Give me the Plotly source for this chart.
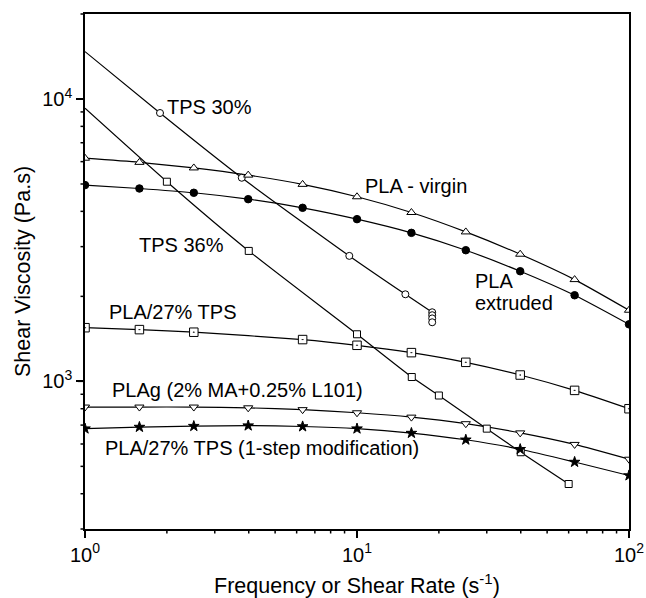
import plotly.graph_objects as go
import numpy as np

# ---- data ----
freq = [1, 1.585, 2.512, 3.981, 6.31, 10, 15.85, 25.12, 39.81, 63.1, 100]
pla_virgin = [6170, 5965, 5700, 5375, 4985, 4505, 3963, 3383, 2820, 2293, 1786]
pla_extruded = [4955, 4820, 4655, 4418, 4118, 3754, 3357, 2914, 2455, 2018, 1592]
plag = [811, 811, 811, 806, 794, 774, 747, 708, 657, 598, 530]
pla_1step = [680, 689, 694, 697, 692, 680, 656, 621, 575, 518, 464]

pla27_x = [1, 1.585, 2.512, 6.31, 10, 15.85, 25.12, 39.81, 63.1, 100]
pla27_y = [1549, 1525, 1493, 1406, 1342, 1264, 1168, 1053, 929, 800]

tps30_x = [1.887, 3.77, 9.37, 15.06, 18.9, 18.9, 18.9, 18.9]
tps30_y = [8920, 5260, 2782, 2034, 1757, 1715, 1671, 1619]
tps30_curve_start = 14720   # viscosity of the drawn curve at x = 1
tps30_curve_npts = 5        # curve runs through the first points only

tps36_x = [2, 4, 10, 15.9, 20, 30, 40, 60]
tps36_y = [5094, 2897, 1468, 1036, 891, 680, 561, 433]
tps36_curve_start = 9270

x_ticks = [1, 10, 100]
x_ticktext = ["10<sup>0</sup>", "10<sup>1</sup>", "10<sup>2</sup>"]
y_ticks = [1000, 10000]
y_ticktext = ["10<sup>3</sup>", "10<sup>4</sup>"]
x_minor = [2, 3, 4, 5, 6, 7, 8, 9, 20, 30, 40, 50, 60, 70, 80, 90]
y_minor = [300, 400, 500, 600, 700, 800, 900, 2000, 3000, 4000, 5000,
           6000, 7000, 8000, 9000, 20000]

FONT = "Liberation Sans, Arial, sans-serif"
FS = 20
FS_TITLE = 21.5
MAJOR_LEN = 7
MINOR_LEN = 4.5
AXIS_W = 1.5

W, H = 646, 598
M = dict(l=85, r=17, t=14, b=69)
PLOT_W = W - M["l"] - M["r"]
PLOT_H = H - M["t"] - M["b"]

X_RANGE = [0, 2]
Y_RANGE = [np.log10(300), np.log10(20000)]

fig = go.Figure()

def curve(x, y, shape="spline"):
    fig.add_trace(go.Scatter(x=x, y=y, mode="lines",
                             line=dict(color="black", width=1.2, shape=shape, smoothing=0.6),
                             hoverinfo="skip", showlegend=False))

def marks(x, y, symbol, fill, size):
    fig.add_trace(go.Scatter(x=x, y=y, mode="markers",
                             marker=dict(symbol=symbol, size=size, color=fill,
                                         line=dict(color="black", width=1)),
                             showlegend=False))

# curves
curve([1] + tps30_x[:tps30_curve_npts], [tps30_curve_start] + tps30_y[:tps30_curve_npts])
curve([1] + tps36_x, [tps36_curve_start] + tps36_y)
curve(freq, pla_virgin)
curve(freq, pla_extruded)
curve(pla27_x, pla27_y)
curve(freq, plag)
curve(freq, pla_1step)

# markers
marks(tps30_x, tps30_y, "circle", "white", 7)
marks(tps36_x, tps36_y, "square", "white", 7)
marks(freq, pla_virgin, "triangle-up", "white", 8)
marks(freq, pla_extruded, "circle", "black", 7.5)
marks(pla27_x, pla27_y, "square-dot", "white", 8.5)
marks(freq, plag, "triangle-down", "white", 8)
marks(freq, pla_1step, "star", "black", 8)

labels = [
    ("TPS 30%", 0.294, 3.9716),
    ("TPS 36%", 0.190, 3.482),
    ("PLA - virgin", 1.021, 3.6915),
    ("PLA", 1.428, 3.357),
    ("extruded", 1.428, 3.2766),
    ("PLA/27% TPS", 0.080, 3.2457),
    ("PLAg (2% MA+0.25% L101)", 0.092, 2.968),
    ("PLA/27% TPS (1-step modification)", 0.066, 2.7635),
]
for txt, lx, ly in labels:
    fig.add_annotation(x=lx, y=ly, xref="x", yref="y", text=txt, showarrow=False,
                       xanchor="left", yanchor="middle",
                       font=dict(family=FONT, size=FS, color="black"))

# tick marks drawn as short paper-referenced lines just outside the axes
def frac(v, rng):
    return (np.log10(v) - rng[0]) / (rng[1] - rng[0])

tick_line = dict(color="black", width=AXIS_W)
for v, ln in [(t, MAJOR_LEN) for t in x_ticks] + [(t, MINOR_LEN) for t in x_minor]:
    f = frac(v, X_RANGE)
    fig.add_shape(type="line", xref="paper", yref="paper", x0=f, x1=f,
                  y0=0, y1=-ln / PLOT_H, line=tick_line, layer="above")
for v, ln in [(t, MAJOR_LEN) for t in y_ticks] + [(t, MINOR_LEN) for t in y_minor]:
    f = frac(v, Y_RANGE)
    fig.add_shape(type="line", xref="paper", yref="paper", y0=f, y1=f,
                  x0=0, x1=-ln / PLOT_W, line=tick_line, layer="above")

axis_common = dict(showgrid=False, zeroline=False, showline=True, linecolor="black",
                   linewidth=AXIS_W, mirror=True, ticks="outside", ticklen=MAJOR_LEN,
                   tickwidth=AXIS_W, tickcolor="black", automargin=False,
                   tickfont=dict(family=FONT, size=FS, color="black"))

fig.update_layout(
    xaxis=dict(type="log", range=X_RANGE, tickmode="array", tickvals=x_ticks,
               ticktext=x_ticktext,
               title=dict(text="Frequency or Shear Rate (s<sup>-1</sup>)",
                          font=dict(family=FONT, size=FS_TITLE, color="black"), standoff=14),
               **axis_common),
    yaxis=dict(type="log", range=Y_RANGE, tickmode="array", tickvals=y_ticks,
               ticktext=y_ticktext,
               title=dict(text="Shear Viscosity (Pa.s)",
                          font=dict(family=FONT, size=FS_TITLE, color="black"), standoff=6),
               **axis_common),
    width=W, height=H, margin=M,
    plot_bgcolor="white", paper_bgcolor="white",
    font=dict(family=FONT, size=FS, color="black"),
)

fig.write_html("out.html")
